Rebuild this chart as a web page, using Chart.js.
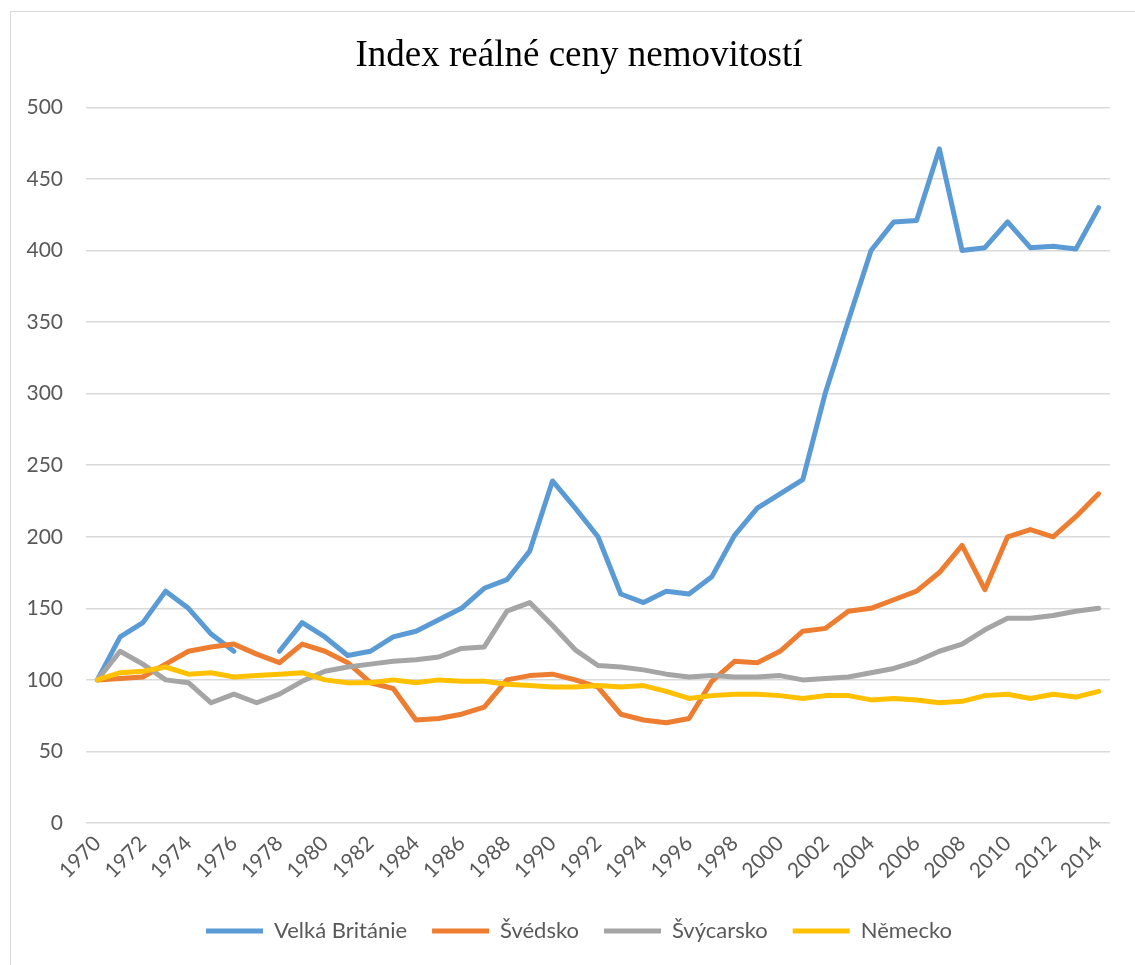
<!DOCTYPE html>
<html>
<head>
<meta charset="utf-8">
<script src="https://cdn.jsdelivr.net/npm/chart.js@4.4.1/dist/chart.umd.min.js"></script>
<style>
  html, body { margin: 0; padding: 0; background: #ffffff; overflow: hidden; }
  #frame { position: absolute; left: 10px; top: 11px; width: 1300px; height: 1100px; border: 1.5px solid #d9d9d9; box-sizing: border-box; }
  #wrap { position: absolute; left: 0; top: 0; width: 1135px; height: 965px; }
</style>
</head>
<body>
<div id="frame"></div>
<div id="wrap"><canvas id="c" width="1135" height="965"></canvas></div>
<script>
const years = ["1970","1971","1972","1973","1974","1975","1976","1977","1978","1979",
  "1980","1981","1982","1983","1984","1985","1986","1987","1988","1989",
  "1990","1991","1992","1993","1994","1995","1996","1997","1998","1999",
  "2000","2001","2002","2003","2004","2005","2006","2007","2008","2009",
  "2010","2011","2012","2013","2014"];

const velkaBritanie = [100,130,140,162,150,132,120,null,120,140,
  130,117,120,130,134,142,150,164,170,190,
  239,220,200,160,154,162,160,172,201,220,
  230,240,301,351,400,420,421,471,400,402,
  420,402,403,401,430];

const svedsko = [100,101,102,111,120,123,125,118,112,125,
  120,112,98,94,72,73,76,81,100,103,
  104,100,95,76,72,70,73,99,113,112,
  120,134,136,148,150,156,162,175,194,163,
  200,205,200,214,230];

const svycarsko = [100,120,111,100,98,84,90,84,90,99,
  106,109,111,113,114,116,122,123,148,154,
  138,121,110,109,107,104,102,103,102,102,
  103,100,101,102,105,108,113,120,125,135,
  143,143,145,148,150];

const nemecko = [100,105,106,109,104,105,102,103,104,105,
  100,98,98,100,98,100,99,99,97,96,
  95,95,96,95,96,92,87,89,90,90,
  89,87,89,89,86,87,86,84,85,89,
  90,87,90,88,92];

const seriesNames = ["Velká Británie", "Švédsko", "Švýcarsko", "Německo"];
const yTicks = [0, 50, 100, 150, 200, 250, 300, 350, 400, 450, 500];
const titleText = "Index reálné ceny nemovitostí";

const colors = ["#5B9BD5", "#ED7D31", "#A5A5A5", "#FFC000"];
const seriesData = [velkaBritanie, svedsko, svycarsko, nemecko];

const datasets = seriesData.map((d, i) => ({
  label: seriesNames[i],
  data: d,
  borderColor: colors[i],
  backgroundColor: colors[i],
  borderWidth: 5,
  borderCapStyle: 'round',
  borderJoinStyle: 'round',
  pointRadius: 0,
  pointHoverRadius: 0,
  tension: 0,
  spanGaps: false,
  fill: false,
  order: 3 - i
}));

const tickFont = { family: "Lato", size: 21 };

// widen the y-axis label clip region so right-aligned tick labels are not cut
const labelClipFix = {
  id: 'labelClipFix',
  afterLayout(chart) { chart.scales.y.left = 0; }
};

new Chart(document.getElementById('c'), {
  type: 'line',
  data: { labels: years, datasets: datasets },
  plugins: [labelClipFix],
  options: {
    responsive: false,
    animation: false,
    devicePixelRatio: 1,
    layout: { padding: { left: 48, right: 25, top: 0, bottom: 13 } },
    plugins: {
      title: {
        display: true,
        text: titleText,
        color: '#000000',
        font: { family: "Liberation Serif", size: 37, weight: 'normal' },
        padding: { top: 34, bottom: 29 }
      },
      legend: {
        display: true,
        position: 'bottom',
        labels: {
          usePointStyle: true,
          pointStyle: 'line',
          pointStyleWidth: 57,
          boxHeight: 5,
          padding: 25,
          color: '#595959',
          font: { family: "Lato", size: 22 },
          sort: (a, b) => a.datasetIndex - b.datasetIndex
        }
      },
      tooltip: { enabled: false }
    },
    scales: {
      x: {
        offset: true,
        grid: { display: false, drawTicks: false },
        border: { display: false },
        ticks: {
          autoSkip: false,
          minRotation: 45,
          maxRotation: 45,
          padding: 8,
          color: '#595959',
          font: tickFont,
          callback: function(value, index) { return index % 2 === 0 ? years[index] : ''; }
        },
        afterFit: function(scale) { scale.height = 72; }
      },
      y: {
        min: 0,
        max: 500,
        afterBuildTicks: function(scale) { scale.ticks = yTicks.map(v => ({ value: v })); },
        grid: { color: '#d9d9d9', lineWidth: 1.5, drawTicks: false },
        border: { display: false },
        ticks: { padding: 23, color: '#595959', font: tickFont },
        afterFit: function(scale) { scale.width = 38; }
      }
    }
  }
});
</script>
</body>
</html>
